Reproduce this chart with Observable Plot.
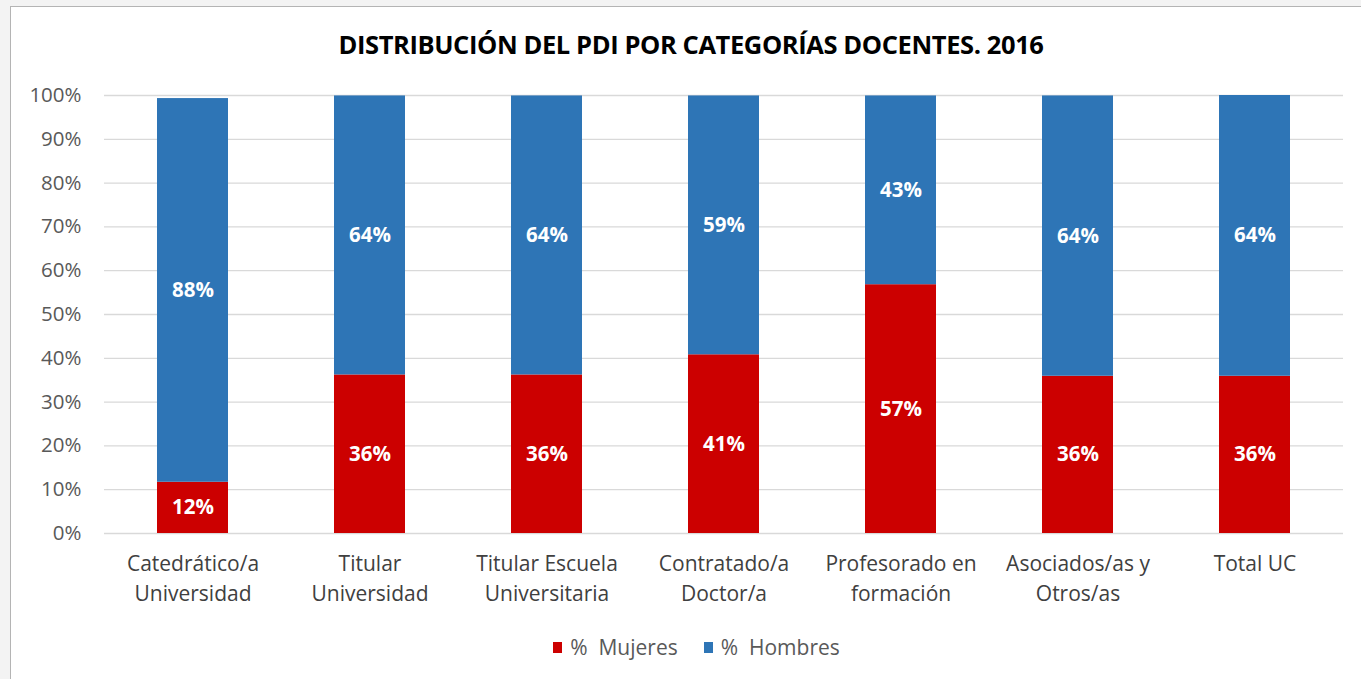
<!DOCTYPE html>
<html>
<head>
<meta charset="utf-8">
<script src="https://cdn.jsdelivr.net/npm/d3@7"></script>
<script src="https://cdn.jsdelivr.net/npm/@observablehq/plot@0.6"></script>
<style>
  html, body { margin: 0; padding: 0; background: #f3f3f3; overflow: hidden; }
  #panel {
    position: absolute; left: 10px; top: 6px; width: 1400px; height: 720px;
    background: #fff; border-left: 1px solid #b4b4b4; border-top: 1px solid #b4b4b4;
  }
  #title {
    position: absolute; left: 0; top: 27px; width: 1382px; text-align: center;
    font-family: "Open Sans", sans-serif; font-weight: 700; font-size: 25.5px; color: #000;
    letter-spacing: -0.4px;
  }
  #chart { position: absolute; left: 0; top: 80px; }
  #legend {
    position: absolute; left: 0; top: 633px; width: 1393px; display: flex; justify-content: center;
    font-family: "Open Sans", sans-serif; font-size: 21px; color: #595959; gap: 26px;
  }
  .item { display: flex; align-items: center; }
  .sw { width: 9px; height: 11px; margin-right: 8px; }
</style>
</head>
<body>
<div id="panel"></div>
<div id="title">DISTRIBUCIÓN DEL PDI POR CATEGORÍAS DOCENTES. 2016</div>
<div id="chart"></div>
<div id="legend"></div>
<script>
const categories = ["Catedrático/a Universidad", "Titular Universidad", "Titular Escuela Universitaria", "Contratado/a Doctor/a", "Profesorado en formación", "Asociados/as y Otros/as", "Total UC"];
const tickLabels = ["Catedrático/a\nUniversidad", "Titular\nUniversidad", "Titular Escuela\nUniversitaria", "Contratado/a\nDoctor/a", "Profesorado en\nformación", "Asociados/as y\nOtros/as", "Total UC"];
const seriesNames = ["% Mujeres", "% Hombres"];
const mujeres = [11.7, 36.2, 36.2, 40.8, 56.8, 35.9, 35.9];
const hombres = [87.6, 63.7, 63.7, 59.1, 43.1, 64.0, 64.1];
const colors = ["#cc0000", "#2e75b6"];
const yTicks = [0, 10, 20, 30, 40, 50, 60, 70, 80, 90, 100];

const data = [];
categories.forEach((c, i) => data.push({cat: c, series: seriesNames[0], value: mujeres[i]}));
categories.forEach((c, i) => data.push({cat: c, series: seriesNames[1], value: hombres[i]}));

const labelMap = new Map(categories.map((c, i) => [c, tickLabels[i]]));

const chart = Plot.plot({
  width: 1361,
  height: 540,
  marginTop: 15,
  marginBottom: 87,
  marginLeft: 104,
  marginRight: 18,
  style: { fontFamily: "'Open Sans', sans-serif", background: "transparent" },
  x: { domain: categories, paddingInner: 0.6, paddingOuter: 0.3, label: null },
  y: { domain: [0, 100], label: null },
  color: { domain: seriesNames, range: colors },
  marks: [
    Plot.gridY(yTicks, { stroke: "#d9d9d9", strokeOpacity: 1, strokeWidth: 1.3 }),
    Plot.axisY({ ticks: yTicks, tickSize: 0, tickPadding: 23, tickFormat: d => d + "%", fontSize: 20.5, fill: "#595959", label: null }),
    Plot.axisX({ tickSize: 0, tickPadding: 17, tickFormat: d => labelMap.get(d), fontSize: 21, fill: "#404040", lineHeight: 1.4, label: null }),
    Plot.barY(data, { x: "cat", y: "value", fill: "series", order: seriesNames }),
    Plot.text(data, Plot.stackY({ x: "cat", y: "value", z: "series", order: seriesNames, text: d => Math.round(d.value) + "%", fill: "white", fontWeight: "bold", fontSize: 20.5 }))
  ]
});
document.getElementById("chart").appendChild(chart);

const legend = document.getElementById("legend");
seriesNames.forEach((s, i) => {
  const it = document.createElement("div");
  it.className = "item";
  const sw = document.createElement("span");
  sw.className = "sw";
  sw.style.background = colors[i];
  const t = document.createElement("span");
  t.textContent = s.replace("% ", "%\u00a0 ");
  it.appendChild(sw); it.appendChild(t);
  legend.appendChild(it);
});
</script>
</body>
</html>
